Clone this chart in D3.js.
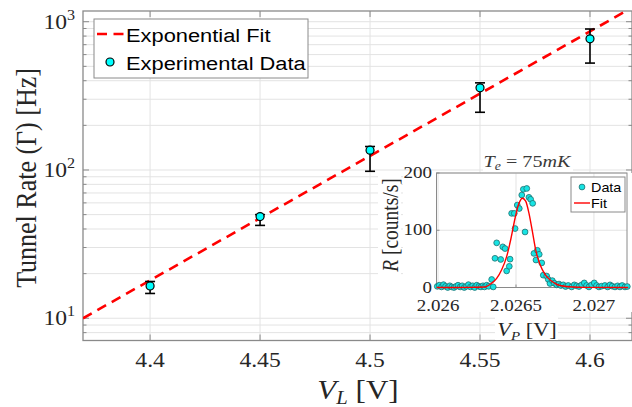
<!DOCTYPE html>
<html><head><meta charset="utf-8">
<script src="https://cdn.jsdelivr.net/npm/d3@7"></script>
<style>body{margin:0;background:#fff;} svg{display:block}</style>
</head><body>
<svg id="c" width="632" height="407"></svg>
<script>
// ---------- main data ----------
const vL      = [4.40, 4.45, 4.50, 4.55, 4.60];
const rate    = [16.5, 48.5, 136, 358, 767];
const rateLo  = [14.7, 42.3, 98, 245, 526];
const rateHi  = [17.7, 50, 144, 387, 893];
const fitV    = [4.3695, 4.6164];
const fitRate = [10, 1181];
const xTicks  = [4.4, 4.45, 4.5, 4.55, 4.6];
const xTickLabels = ["4.4", "4.45", "4.5", "4.55", "4.6"];
const yTicks  = [10, 100, 1000];
const yTickExp = ["1", "2", "3"];
const legendLabels = ["Exponential Fit", "Experimental Data"];

// ---------- inset data ----------
const vP = [2.025995,2.026008,2.026022,2.026035,2.026048,2.026062,2.026075,2.026088,2.026102,2.026115,
  2.026128,2.026142,2.026155,2.026168,2.026182,2.026195,2.026208,2.026222,2.026235,2.026248,
  2.026262,2.026275,2.026288,2.026298,2.026312,2.026325,2.026344,2.026354,2.026365,2.026376,
  2.026402,2.026415,2.026430,2.026440,2.026457,2.026462,2.026472,2.026489,2.026494,2.026508,
  2.026521,2.026537,2.026547,2.026558,2.026569,2.026583,2.026594,2.026607,2.026615,2.026628,
  2.026637,2.026649,2.026665,2.026675,2.026697,2.026707,2.026718,2.026733,2.026746,2.026761,
  2.026776,2.026788,2.026803,2.026818,2.026835,2.026857,2.026874,2.026889,2.026904,2.026921,
  2.026938,2.026953,2.026968,2.026985,2.027002,2.027017,2.027032,2.027049,2.027070,2.027088,
  2.027103,2.027117,2.027135,2.027152,2.027167,2.027181,2.027199,2.027214];
const rP = [2,4,1,5,2,0,3,1,0,2,
  4,1,3,0,2,5,1,3,0,4,
  2,1,3,1,4,2,14,1,51,78,
  49,71,68,29,37,49.5,129.5,129.5,103,144,
  138,161.5,171.5,97,173,157.5,154,147,59.5,48,
  65,58,43,21.5,20,14,7,12,7.5,4.6,
  6,3.5,4.6,1.7,3.5,1,4.6,2.9,1.7,4.6,
  8,3.5,1,4.6,8,3.5,1,2.3,3.5,1,
  4.6,2.3,1,2.9,1,3.5,1,1.7];
const fitVP = [2.02599,2.02620,2.026301,2.026344,2.026376,2.026408,2.02644,2.026468,2.026494,2.026519,
  2.026541,2.026562,2.026583,2.026605,2.026626,2.026654,2.026686,2.026729,2.026782,2.026857,2.02695,2.02722];
const fitRP = [0,0.2,1,7.5,16,31,54,86,121,147,
  156,151,130,98,66,40,23,11,3.5,1,0.3,0];
const insetXTicks = [2.026, 2.0265, 2.027];
const insetXTickLabels = ["2.026", "2.0265", "2.027"];
const insetYTicks = [0, 100, 200];
const insetLegendLabels = ["Data", "Fit"];

// ---------- drawing ----------
const svg = d3.select("#c");
const SX = 1.15;
const SERIF = "'Liberation Serif', 'Times New Roman', serif";
const SANS = "'Liberation Sans', Arial, sans-serif";
const AXC = "#8a8a8a", GRID = "#e3e3e3", TXT = "#262626";

function stext(g, x, y, parts, o) {
  const t = g.append("text")
    .attr("transform", `translate(${x},${y}) scale(${o.sx || SX},1)` + (o.rot ? ` rotate(${o.rot})` : ""))
    .attr("text-anchor", o.anchor || "middle")
    .attr("font-family", o.family || SERIF)
    .attr("font-size", o.size)
    .attr("fill", o.fill || TXT);
  parts.forEach(p => {
    const ts = t.append("tspan").text(p.t);
    if (p.it) ts.attr("font-style", "italic");
    if (p.dy) ts.attr("dy", p.dy);
    if (p.fs) ts.attr("font-size", p.fs);
  });
  return t;
}

// main axes box
const L = 83, R = 632, T = 11, B = 340.5;
const x = d3.scaleLinear().domain([4.3695, 4.6191]).range([L, R]);
const y = d3.scaleLog().domain([7.08, 1181]).range([B, T]);

const gGrid = svg.append("g");
const yAll = [8,9,10,20,30,40,50,60,70,80,90,100,200,300,400,500,600,700,800,900,1000];
gGrid.selectAll("line.h").data(yAll).join("line")
  .attr("x1", L).attr("x2", R).attr("y1", d => y(d)).attr("y2", d => y(d))
  .attr("stroke", GRID).attr("stroke-width", 1);
gGrid.selectAll("line.v").data(xTicks).join("line")
  .attr("y1", T).attr("y2", B).attr("x1", d => x(d)).attr("x2", d => x(d))
  .attr("stroke", GRID).attr("stroke-width", 1);

// axes with inward ticks
const gAx = svg.append("g");
gAx.append("rect").attr("x", L).attr("y", T).attr("width", R - L).attr("height", B - T)
  .attr("fill", "none").attr("stroke", AXC).attr("stroke-width", 1.3);
yAll.forEach(d => {
  const len = yTicks.includes(d) ? 6 : 3.5;
  gAx.append("line").attr("x1", L).attr("x2", L + len).attr("y1", y(d)).attr("y2", y(d)).attr("stroke", AXC);
  gAx.append("line").attr("x1", R).attr("x2", R - len).attr("y1", y(d)).attr("y2", y(d)).attr("stroke", AXC);
});
xTicks.forEach(d => {
  gAx.append("line").attr("y1", B).attr("y2", B - 6).attr("x1", x(d)).attr("x2", x(d)).attr("stroke", AXC);
  gAx.append("line").attr("y1", T).attr("y2", T + 6).attr("x1", x(d)).attr("x2", x(d)).attr("stroke", AXC);
});

// tick labels
xTicks.forEach((d, i) => stext(svg, x(d), 367, [{t: xTickLabels[i]}], {size: 20.5}));
yTicks.forEach((d, i) => stext(svg, 75, y(d) + 7, [{t: "10"}, {t: yTickExp[i], dy: -9, fs: 14}], {size: 20.5, anchor: "end"}));

// axis labels
stext(svg, 36, 178, [{t: "Tunnel Rate (Γ) [Hz]"}], {size: 26, rot: -90});
stext(svg, 358, 399, [{t: "V", it: 1}, {t: "L", it: 1, dy: 5, fs: 18}, {t: " [V]", dy: -5}], {size: 27});

// fit line (clipped)
svg.append("clipPath").attr("id", "mclip").append("rect").attr("x", L).attr("y", T).attr("width", R - L).attr("height", B - T);
const fitPts = fitV.map((v, i) => [v, fitRate[i]]);
svg.append("path").attr("clip-path", "url(#mclip)")
  .attr("d", d3.line().x(d => x(d[0])).y(d => y(d[1]))(fitPts))
  .attr("fill", "none").attr("stroke", "#ff0000").attr("stroke-width", 2.6).attr("stroke-dasharray", "10,6.5");

// error bars + markers
const gD = svg.append("g");
vL.forEach((v, i) => {
  const cx = x(v);
  gD.append("line").attr("x1", cx).attr("x2", cx).attr("y1", y(rateLo[i])).attr("y2", y(rateHi[i])).attr("stroke", "#000").attr("stroke-width", 1.6);
  [rateLo[i], rateHi[i]].forEach(e => gD.append("line").attr("x1", cx - 5).attr("x2", cx + 5).attr("y1", y(e)).attr("y2", y(e)).attr("stroke", "#000").attr("stroke-width", 1.6));
});
gD.selectAll("circle").data(vL).join("circle")
  .attr("cx", d => x(d)).attr("cy", (d, i) => y(rate[i])).attr("r", 4)
  .attr("fill", "#00ffff").attr("stroke", "#000").attr("stroke-width", 1.2);

// main legend
const gL = svg.append("g");
gL.append("rect").attr("x", 94).attr("y", 19).attr("width", 214).attr("height", 59)
  .attr("fill", "#fff").attr("stroke", AXC).attr("stroke-width", 1);
gL.append("line").attr("x1", 97).attr("x2", 125).attr("y1", 34).attr("y2", 34)
  .attr("stroke", "#ff0000").attr("stroke-width", 2.6).attr("stroke-dasharray", "10,6.5");
gL.append("circle").attr("cx", 110).attr("cy", 62).attr("r", 4).attr("fill", "#00ffff").attr("stroke", "#000").attr("stroke-width", 1.2);
stext(gL, 126, 42, [{t: legendLabels[0]}], {size: 19, anchor: "start", family: SANS, fill: "#000"});
stext(gL, 126, 70, [{t: legendLabels[1]}], {size: 19, anchor: "start", family: SANS, fill: "#000"});

// ---------- inset ----------
const iL = 436.5, iR = 627, iT = 173, iB = 287.5;
const xi = d3.scaleLinear().domain([2.02599, 2.027212]).range([iL, iR]);
const yi = d3.scaleLinear().domain([0, 200]).range([iB, iT]);
const gI = svg.append("g");
// white backgrounds
gI.append("rect").attr("x", 403).attr("y", 173).attr("width", 229).attr("height", 139).attr("fill", "#fff");
gI.append("rect").attr("x", 378).attr("y", 172).attr("width", 23).attr("height", 108).attr("fill", "#fff");
gI.append("rect").attr("x", 483).attr("y", 148).attr("width", 90).attr("height", 24).attr("fill", "#fff");
gI.append("rect").attr("x", 495).attr("y", 312).attr("width", 63).attr("height", 28).attr("fill", "#fff");
// grid
gI.selectAll("line.gx").data(insetXTicks).join("line")
  .attr("x1", d => xi(d)).attr("x2", d => xi(d)).attr("y1", iT).attr("y2", iB).attr("stroke", GRID);
gI.selectAll("line.gy").data(insetYTicks).join("line")
  .attr("y1", d => yi(d)).attr("y2", d => yi(d)).attr("x1", iL).attr("x2", iR).attr("stroke", GRID);
gI.append("rect").attr("x", iL).attr("y", iT).attr("width", iR - iL).attr("height", iB - iT)
  .attr("fill", "none").attr("stroke", AXC).attr("stroke-width", 1);
insetXTicks.forEach((d, i) => {
  gI.append("line").attr("x1", xi(d)).attr("x2", xi(d)).attr("y1", iB).attr("y2", iB - 3).attr("stroke", AXC);
  stext(gI, xi(d), 310.5, [{t: insetXTickLabels[i]}], {size: 16.5});
});
insetYTicks.forEach(d => {
  gI.append("line").attr("x1", iL).attr("x2", iL + 3).attr("y1", yi(d)).attr("y2", yi(d)).attr("stroke", AXC);
  stext(gI, 432, yi(d) + 5, [{t: String(d)}], {size: 16.5, anchor: "end"});
});
stext(gI, 398, 225, [{t: "R", it: 1}, {t: " [counts/s]"}], {size: 19.5, rot: -90});
stext(gI, 527, 336, [{t: "V", it: 1}, {t: "P", it: 1, dy: 4, fs: 13}, {t: " [V]", dy: -4}], {size: 19.5});
stext(gI, 527, 167, [{t: "T", it: 1}, {t: "e", it: 1, dy: 3, fs: 12}, {t: " = 75", dy: -3}, {t: "mK", it: 1}], {size: 17.5, fill: "#3a3a3a"});

const gIc = gI.append("g");
gIc.selectAll("circle").data(vP).join("circle")
  .attr("cx", d => xi(d)).attr("cy", (d, i) => yi(rP[i])).attr("r", 2.9)
  .attr("fill", "#17e3e3").attr("stroke", "#1f6f6f").attr("stroke-width", 0.8);
const fitPtsI = fitVP.map((v, i) => [v, fitRP[i]]);
gI.append("path").attr("d", d3.line().curve(d3.curveMonotoneX).x(d => xi(d[0])).y(d => yi(d[1]))(fitPtsI))
  .attr("fill", "none").attr("stroke", "#ff0000").attr("stroke-width", 1.4);

// inset legend
gI.append("rect").attr("x", 571).attr("y", 177).attr("width", 54).attr("height", 35)
  .attr("fill", "#fff").attr("stroke", AXC).attr("stroke-width", 1);
gI.append("circle").attr("cx", 582).attr("cy", 187).attr("r", 2.9).attr("fill", "#17e3e3").attr("stroke", "#1f6f6f").attr("stroke-width", 0.8);
gI.append("line").attr("x1", 574).attr("x2", 590).attr("y1", 203).attr("y2", 203).attr("stroke", "#ff0000").attr("stroke-width", 1.4);
stext(gI, 591, 192, [{t: insetLegendLabels[0]}], {size: 12.5, anchor: "start", family: SANS, fill: "#000"});
stext(gI, 591, 208, [{t: insetLegendLabels[1]}], {size: 12.5, anchor: "start", family: SANS, fill: "#000"});
</script>
</body></html>
